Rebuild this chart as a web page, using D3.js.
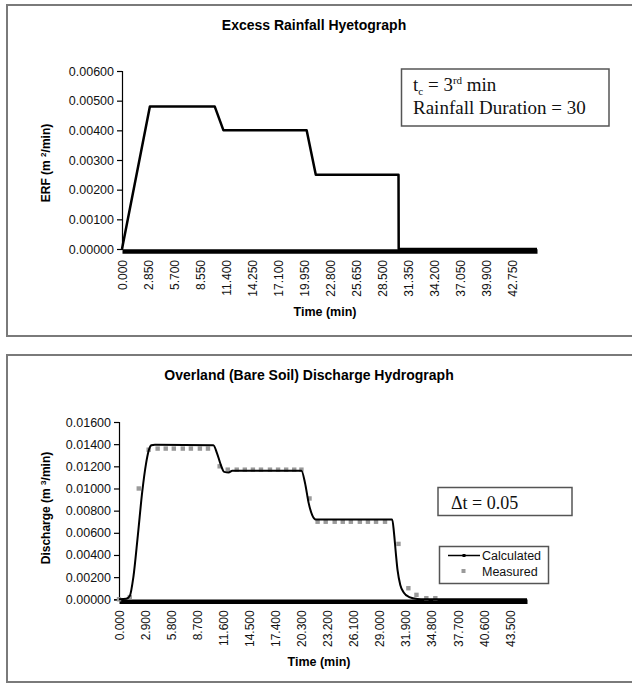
<!DOCTYPE html>
<html>
<head>
<meta charset="utf-8">
<script src="https://cdn.jsdelivr.net/npm/d3@7"></script>
<style>
  body { margin:0; background:#fff; }
  svg { display:block; }
</style>
</head>
<body>
<div id="chart"></div>
<script>

// excess rainfall (top chart)
var erfTime  = [0, 3.05, 10.15, 11.1, 20.2, 21.2, 30.25, 30.27, 45.4];
var erfValue = [0, 0.0048, 0.0048, 0.0040, 0.0040, 0.0025, 0.0025, 0, 0];
var erfXTicks = [0, 2.85, 5.7, 8.55, 11.4, 14.25, 17.1, 19.95, 22.8, 25.65, 28.5, 31.35, 34.2, 37.05, 39.9, 42.75];
var erfYTicks = [0, 0.001, 0.002, 0.003, 0.004, 0.005, 0.006];

// discharge (bottom chart)
var calcTime = [0, 0.8, 1.2, 1.6, 2.1, 2.6, 3.0, 3.3, 3.6, 4.0, 10.5, 10.9, 11.3, 11.7, 12.2, 12.6,
                20.3, 20.7, 21.1, 21.5, 21.9, 30.4, 30.6, 30.8, 31.0, 31.3, 31.7, 32.3, 33.2, 34.0, 45.4];
var calcQ    = [0, 0.00005, 0.0003, 0.0020, 0.0058, 0.0098, 0.0122, 0.0134, 0.0139, 0.01395, 0.0139, 0.0132, 0.0122, 0.0115, 0.01145, 0.0116,
                0.0116, 0.0105, 0.0087, 0.0076, 0.0072, 0.0072, 0.0060, 0.0042, 0.0026, 0.0013, 0.0006, 0.0002, 0.00003, 0, 0];
var measTime = [0, 1.2, 2.2, 3.3, 4.3, 5.2, 6.1, 7.1, 8.0, 9.0, 9.9, 11.2,
                12.1, 13.1, 14.0, 14.9, 15.8, 16.8, 17.7, 18.6, 19.5, 20.3, 21.2,
                22.1, 23.0, 24.0, 24.9, 25.8, 26.8, 27.7, 28.6, 29.6, 31.1, 32.2, 33.1, 34.2, 35.2];
var measQ    = [0, 0.0002, 0.0100, 0.0135, 0.0136, 0.0136, 0.0136, 0.0136, 0.0136, 0.0136, 0.0136, 0.0120,
                0.0117, 0.0117, 0.0117, 0.0117, 0.0117, 0.0117, 0.0117, 0.0117, 0.0117, 0.0117, 0.0091,
                0.0070, 0.0070, 0.0070, 0.0070, 0.0070, 0.0070, 0.0070, 0.0070, 0.0070, 0.0050, 0.0010, 0.0004, 0.0001, 0.0001];
var qXTicks = [0, 2.9, 5.8, 8.7, 11.6, 14.5, 17.4, 20.3, 23.2, 26.1, 29.0, 31.9, 34.8, 37.7, 40.6, 43.5];
var qYTicks = [0, 0.002, 0.004, 0.006, 0.008, 0.010, 0.012, 0.014, 0.016];


var sans = "'Liberation Sans', Arial, sans-serif";
var serif = "'Liberation Serif', 'Times New Roman', serif";

var svg = d3.select("#chart").append("svg")
            .attr("width", 632)
            .attr("height", 684);

function zip(a, b) {
    return a.map(function(d, i) { return [d, b[i]]; });
}

// draws one panel, returns the scales
function panel(opt) {
    var g = svg.append("g");

    g.append("rect")
        .attr("x", 7).attr("y", opt.top)
        .attr("width", 660).attr("height", opt.height)
        .attr("fill", "none")
        .attr("stroke", "#7a7a7a")
        .attr("stroke-width", 2);

    var x = d3.scaleLinear().domain([0, 45.4]).range([opt.x0, opt.x1]);
    var y = d3.scaleLinear().domain([0, opt.ymax]).range([opt.y0, opt.y1]);

    g.append("text")
        .attr("x", opt.titleX).attr("y", opt.titleY)
        .attr("text-anchor", "middle")
        .style("font-family", sans)
        .style("font-size", "14px")
        .style("font-weight", "bold")
        .text(opt.title);

    // y axis
    var yAxis = g.append("g")
        .attr("transform", "translate(" + opt.x0 + ",0)")
        .call(d3.axisLeft(y).tickValues(opt.yTicks).tickFormat(d3.format(".5f")).tickSize(5).tickPadding(3));
    yAxis.select(".domain").attr("stroke", "#000").attr("stroke-width", 1.2);
    yAxis.selectAll("line").attr("stroke-width", 1.2);
    yAxis.selectAll("text")
        .style("font-family", sans)
        .style("font-size", "12.5px")
        .attr("fill", "#111");

    // x axis (category style, thick base)
    var xAxis = g.append("g")
        .attr("transform", "translate(0," + (opt.y0 + 2) + ")")
        .call(d3.axisBottom(x).tickValues(opt.xTicks).tickFormat(d3.format(".3f")).tickSize(0).tickSizeOuter(0));
    xAxis.select(".domain").attr("stroke", "#000").attr("stroke-width", 4.5);
    xAxis.selectAll("text")
        .attr("transform", "rotate(-90)")
        .attr("text-anchor", "end")
        .attr("x", -9)
        .attr("y", 0)
        .attr("dy", "0.35em")
        .style("font-family", sans)
        .style("font-size", "12px")
        .attr("fill", "#111");

    g.append("text")
        .attr("x", opt.xTitleX).attr("y", opt.xTitleY)
        .attr("text-anchor", "middle")
        .style("font-family", sans)
        .style("font-size", "12.5px")
        .style("font-weight", "bold")
        .text("Time (min)");

    var yl = g.append("text")
        .attr("transform", "translate(" + opt.yTitleX + "," + opt.yTitleY + ") rotate(-90)")
        .attr("text-anchor", "middle")
        .style("font-family", sans)
        .style("font-size", "12px")
        .style("font-weight", "bold");
    yl.append("tspan").text(opt.yTitleA);
    yl.append("tspan").attr("dy", -4).style("font-size", "8px").text(opt.yTitleSup);
    yl.append("tspan").attr("dy", 4).text("/min)");

    return {g: g, x: x, y: y};
}

// ---------- top : Excess Rainfall Hyetograph ----------
var p1 = panel({
    top: 5, height: 331,
    x0: 122, x1: 537, y0: 249, y1: 71, ymax: 0.006,
    title: "Excess Rainfall Hyetograph", titleX: 314, titleY: 30,
    xTicks: erfXTicks, yTicks: erfYTicks,
    xTitleX: 325, xTitleY: 316,
    yTitleX: 50, yTitleY: 163, yTitleA: "ERF (m ", yTitleSup: "2"
});

var line1 = d3.line().x(function(d) { return p1.x(d[0]); }).y(function(d) { return p1.y(d[1]); });
p1.g.append("path")
    .datum(zip(erfTime, erfValue))
    .attr("d", line1)
    .attr("fill", "none")
    .attr("stroke", "#000")
    .attr("stroke-width", 2.5)
    .attr("stroke-linejoin", "round");

// annotation box
p1.g.append("rect")
    .attr("x", 401.5).attr("y", 69)
    .attr("width", 207.5).attr("height", 57)
    .attr("fill", "#fff")
    .attr("stroke", "#555")
    .attr("stroke-width", 1.5);

var t1 = p1.g.append("text")
    .attr("x", 413).attr("y", 91)
    .style("font-family", serif)
    .style("font-size", "19px")
    .attr("fill", "#111");
t1.append("tspan").text("t");
t1.append("tspan").attr("dy", 4).style("font-size", "11px").text("c");
t1.append("tspan").attr("dy", -4).text(" = 3");
t1.append("tspan").attr("dy", -7).style("font-size", "11px").text("rd");
t1.append("tspan").attr("dy", 7).text(" min");

p1.g.append("text")
    .attr("x", 413).attr("y", 114)
    .style("font-family", serif)
    .style("font-size", "19px")
    .attr("fill", "#111")
    .text("Rainfall Duration = 30");


// ---------- bottom : Discharge Hydrograph ----------
var p2 = panel({
    top: 355, height: 327,
    x0: 119, x1: 527, y0: 599.3, y1: 422, ymax: 0.016,
    title: "Overland (Bare Soil) Discharge Hydrograph", titleX: 309, titleY: 380,
    xTicks: qXTicks, yTicks: qYTicks,
    xTitleX: 319, xTitleY: 666,
    yTitleX: 50, yTitleY: 508, yTitleA: "Discharge (m    ", yTitleSup: "3"
});

// measured
p2.g.selectAll("rect.meas")
    .data(zip(measTime, measQ))
    .enter()
    .append("rect")
    .attr("class", "meas")
    .attr("x", function(d) { return p2.x(d[0]) - 2.2; })
    .attr("y", function(d) { return p2.y(d[1]) - 2.2; })
    .attr("width", 4.4)
    .attr("height", 4.4)
    .attr("fill", "#9a9a9a");

// calculated
var line2 = d3.line().curve(d3.curveMonotoneX)
    .x(function(d) { return p2.x(d[0]); })
    .y(function(d) { return p2.y(d[1]); });
p2.g.append("path")
    .datum(zip(calcTime, calcQ))
    .attr("d", line2)
    .attr("fill", "none")
    .attr("stroke", "#000")
    .attr("stroke-width", 2)
    .attr("stroke-linejoin", "round");

// dt box
p2.g.append("rect")
    .attr("x", 438).attr("y", 487.5)
    .attr("width", 134).attr("height", 28)
    .attr("fill", "#fff")
    .attr("stroke", "#555")
    .attr("stroke-width", 1.5);
p2.g.append("text")
    .attr("x", 451).attr("y", 508.5)
    .style("font-family", serif)
    .style("font-size", "18px")
    .attr("fill", "#111")
    .text("\u0394t = 0.05");

// legend
var lg = p2.g.append("g");
lg.append("rect")
    .attr("x", 439.5).attr("y", 546.5)
    .attr("width", 109).attr("height", 37)
    .attr("fill", "#fff")
    .attr("stroke", "#555")
    .attr("stroke-width", 1.5);
lg.append("line")
    .attr("x1", 448).attr("x2", 480)
    .attr("y1", 555.5).attr("y2", 555.5)
    .attr("stroke", "#000").attr("stroke-width", 1.5);
lg.append("rect")
    .attr("x", 462.5).attr("y", 554)
    .attr("width", 3).attr("height", 3)
    .attr("fill", "#000");
lg.append("rect")
    .attr("x", 461.5).attr("y", 569)
    .attr("width", 4).attr("height", 4)
    .attr("fill", "#9a9a9a");
lg.selectAll("text")
    .data(["Calculated", "Measured"])
    .enter()
    .append("text")
    .attr("x", 482)
    .attr("y", function(d, i) { return 560 + i * 15.5; })
    .style("font-family", sans)
    .style("font-size", "12.5px")
    .attr("fill", "#111")
    .text(function(d) { return d; });

</script>
</body>
</html>
